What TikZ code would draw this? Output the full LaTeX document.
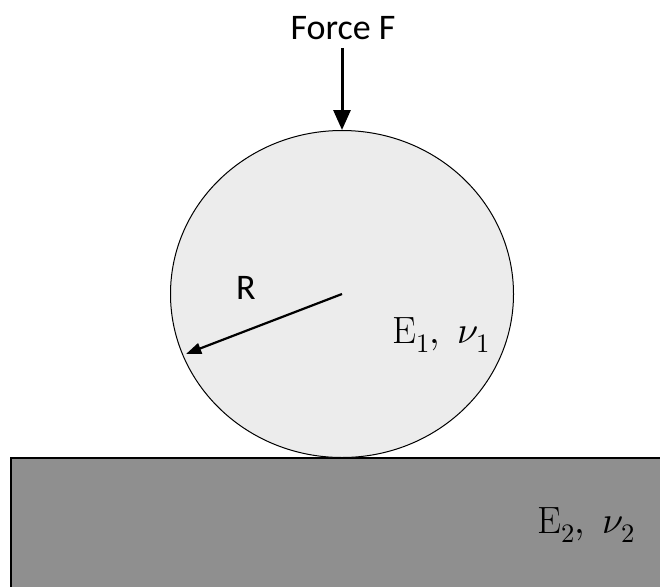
\documentclass[tikz,border=0pt]{standalone}
\usepackage{fontspec}
\usepackage{unicode-math}
\setsansfont{Carlito}
\usetikzlibrary{arrows.meta}
\usetikzlibrary{shapes.geometric}
\definecolor{ballgray}{RGB}{236,236,236}
\definecolor{basegray}{RGB}{143,143,143}

\begin{document}
\begin{tikzpicture}[x=1pt, y=-1pt]
    \useasboundingbox (0,0) rectangle (660,586);
    \clip (0,0) rectangle (660,586);
    %\draw[step=20, gray,very thin] (0,0) grid (660,586);
    % base and ball
    \draw[line width=1.5, fill=basegray] (11,458) rectangle (680,600);
    \node[ellipse, draw, line width=1, fill=ballgray, minimum width=343, minimum height=327, inner sep=0] (ball) at (342,294) {};
    \coordinate (ftop) at (342,48);
    \begin{scope}[font=\sffamily\fontsize{36}{40}\selectfont]
    \node (force) at (343,28) {Force F};
    \node (rlabel) at (246,288) {R};
    \end{scope}
    \begin{scope}[font=\fontsize{38}{44}\selectfont]
    \node[anchor=base] (mat1) at (441,343) {$\mathrm{E}_1,\;\nu_1$};
    \node[anchor=base] (mat2) at (586,533) {$\mathrm{E}_2,\;\nu_2$};
    \end{scope}
    % arrows
    \draw[line width=3, -{Triangle[length=20,width=17]}] (ftop) -- (ball.north);
    \draw[line width=2.2, -{Triangle[length=15,width=11]}, shorten >=4] (ball.center) -- (ball.201);
\end{tikzpicture}
\end{document}
